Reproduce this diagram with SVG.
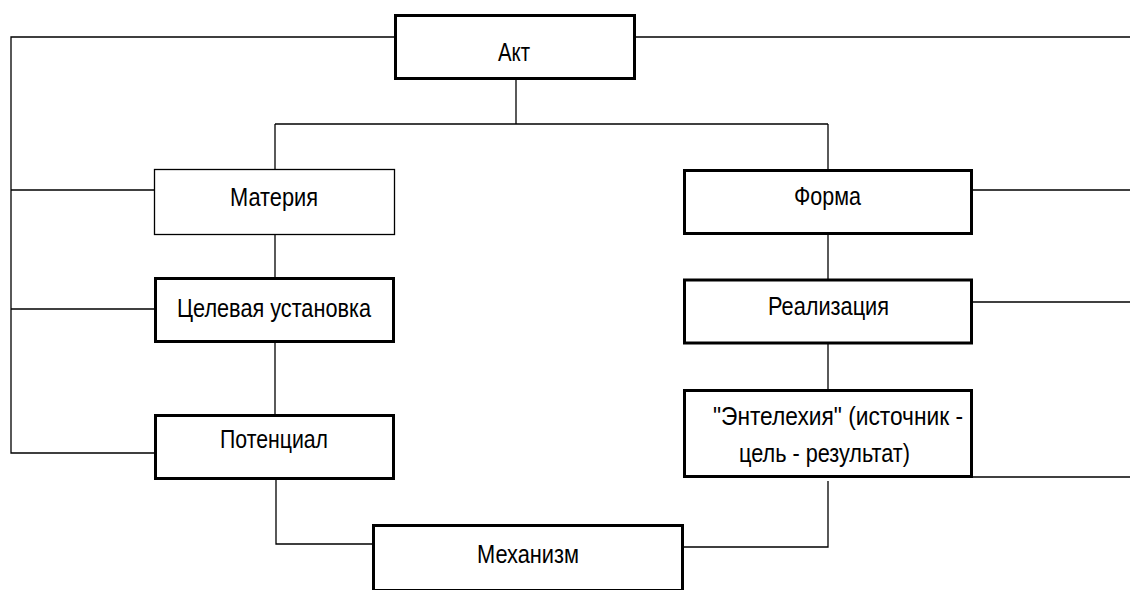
<svg xmlns="http://www.w3.org/2000/svg" width="1130" height="590" viewBox="0 0 1130 590">
<style>
.box{fill:#fff;stroke:#000;stroke-width:3}
.thin{fill:#fff;stroke:#000;stroke-width:1.3}
.lbl{font-family:"Liberation Sans",Arial,sans-serif;font-size:25px;fill:#000}
#connectors path{fill:none;stroke:#000;stroke-width:1.3}
</style>
<rect width="1130" height="590" fill="#fff"/>
<g id="connectors">
<path d="M394 37 H11 V453 H154"/>
<path d="M636 37 H1130"/>
<path d="M11 190 H154"/>
<path d="M11 309 H154"/>
<path d="M516 80 V124"/>
<path d="M275 124 H828"/>
<path d="M275 124 V169"/>
<path d="M828 124 V170"/>
<path d="M275 235 V277"/>
<path d="M275 343 V414"/>
<path d="M276 480 V544 H372"/>
<path d="M973 190 H1130"/>
<path d="M973 302 H1130"/>
<path d="M973 477 H1130"/>
<path d="M828 235 V279"/>
<path d="M828 344 V389"/>
<path d="M828 481 V547 H684"/>
</g>
<g id="akt"><rect class="box" x="395.5" y="15.5" width="239" height="63"/><text class="lbl" x="498" y="61" textLength="32" lengthAdjust="spacingAndGlyphs">Акт</text></g>
<g id="materiya"><rect class="thin" x="154.5" y="169.5" width="240" height="65"/><text class="lbl" x="230" y="206" textLength="88" lengthAdjust="spacingAndGlyphs">Материя</text></g>
<g id="tselevaya"><rect class="box" x="155.5" y="278.5" width="238" height="63"/><text class="lbl" x="177" y="317" textLength="194" lengthAdjust="spacingAndGlyphs">Целевая установка</text></g>
<g id="potentsial"><rect class="box" x="155.5" y="415.5" width="238" height="63"/><text class="lbl" x="220" y="448" textLength="108" lengthAdjust="spacingAndGlyphs">Потенциал</text></g>
<g id="forma"><rect class="box" x="684.5" y="170.5" width="287" height="63"/><text class="lbl" x="794" y="205" textLength="67" lengthAdjust="spacingAndGlyphs">Форма</text></g>
<g id="realizatsiya"><rect class="box" x="684.5" y="280" width="287" height="63"/><text class="lbl" x="768" y="315" textLength="121" lengthAdjust="spacingAndGlyphs">Реализация</text></g>
<g id="entelekhiya"><rect class="box" x="684.5" y="390.5" width="287" height="86"/><text class="lbl" x="713" y="425" textLength="250" lengthAdjust="spacingAndGlyphs">"Энтелехия" (источник -</text><text class="lbl" x="739" y="462" textLength="171" lengthAdjust="spacingAndGlyphs">цель - результат)</text></g>
<g id="mekhanizm"><rect class="box" x="373.5" y="525.5" width="309" height="65"/><text class="lbl" x="477" y="563" textLength="102" lengthAdjust="spacingAndGlyphs">Механизм</text></g>
</svg>
